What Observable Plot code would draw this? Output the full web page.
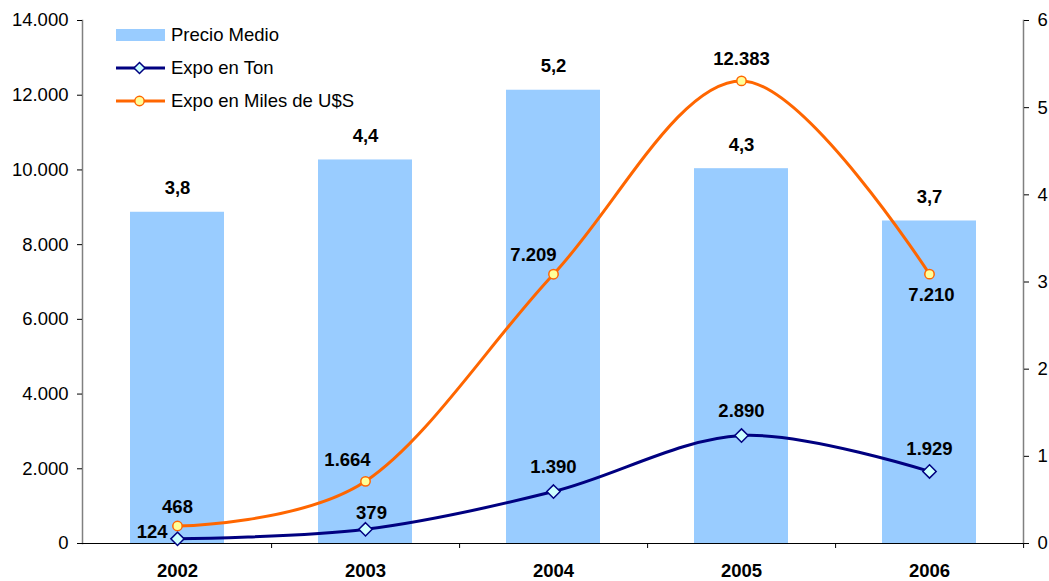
<!DOCTYPE html>
<html>
<head>
<meta charset="utf-8">
<script src="https://cdn.jsdelivr.net/npm/d3@7"></script>
<script src="https://cdn.jsdelivr.net/npm/@observablehq/plot@0.6"></script>
<style>
  body { margin: 0; background: #fff; font-family: "Liberation Sans", Arial, sans-serif; }
  #wrap { position: relative; width: 1049px; height: 581px; }
  #legend { position: absolute; left: 116px; top: 18px; font-size: 18.5px; color: #000; }
  .row { display: flex; align-items: center; height: 33px; }
  .row svg { margin-right: 6px; }
</style>
</head>
<body>
<div id="wrap">
  <div id="chart"></div>
  <div id="legend"></div>
</div>
<script>
const years = ["2002", "2003", "2004", "2005", "2006"];
const precioMedio = [3.8, 4.4, 5.2, 4.3, 3.7];
const expoTon = [124, 379, 1390, 2890, 1929];
const expoMilesUSD = [468, 1664, 7209, 12383, 7210];
const leftTicks = [0, 2000, 4000, 6000, 8000, 10000, 12000, 14000];
const rightTicks = [0, 1, 2, 3, 4, 5, 6];
const seriesNames = ["Precio Medio", "Expo en Ton", "Expo en Miles de U$S"];

const colors = { bar: "#99CCFF", ton: "#000080", usd: "#FF6600", tonFill: "#CCFFFF", usdFill: "#FFFF99" };

const es = d3.formatLocale({ decimal: ",", thousands: ".", grouping: [3], currency: ["$", ""] });
const fmtInt = es.format(",d");
const fmtDec = es.format(".1f");

const W = 1049, H = 581;
const mL = 82, mR = 26, mT = 20, mB = 38;
const leftMax = 14000, rightMax = 6;
const k = leftMax / rightMax;
const step = (W - mL - mR) / years.length;

const rows = years.map((year, i) => ({ year, precio: precioMedio[i], precioScaled: precioMedio[i] * k, ton: expoTon[i], usd: expoMilesUSD[i] }));

// label offsets [dx, dy, anchor]
const tonOff = [[-10, -7, "end"], [6, -16, "middle"], [0, -24, "middle"], [0, -24, "middle"], [0, -22, "middle"]];
const usdOff = [[0, -19, "middle"], [-18, -21, "middle"], [-20, -19, "middle"], [0, -22, "middle"], [2, 21, "middle"]];

const labelStyle = { fontSize: 18.5, fontWeight: "bold", fill: "#000", fontFamily: "Liberation Sans, Arial, sans-serif" };

const marks = [
  Plot.barY(rows, { x: "year", y: "precioScaled", fill: colors.bar }),
  Plot.text(rows, { x: "year", y: "precioScaled", text: d => fmtDec(d.precio), dy: -24, ...labelStyle }),
  Plot.frame({ anchor: "left", stroke: "#808080", strokeWidth: 1.5 }),
  Plot.frame({ anchor: "right", stroke: "#808080", strokeWidth: 1.5 }),
  Plot.ruleY([0], { stroke: "#000", strokeWidth: 1.2 }),
  Plot.axisY(leftTicks, { anchor: "left", tickSize: 5, tickPadding: 9, tickFormat: d => fmtInt(d), fontSize: 18.5, label: null, stroke: "#000" }),
  Plot.axisY(rightTicks.map(v => v * k), { anchor: "right", tickSize: 5, tickPadding: 9, tickFormat: d => String(Math.round(d / k)), fontSize: 18.5, label: null }),
  Plot.axisX({ anchor: "bottom", tickSize: 5, dx: step / 2, tickFormat: () => "", label: null }),
  Plot.axisX({ anchor: "bottom", tickSize: 0, tickPadding: 20, fontSize: 18.5, fontWeight: "bold", label: null }),
  Plot.line(rows, { x: "year", y: "usd", stroke: colors.usd, strokeWidth: 3, curve: "cardinal", tension: 0 }),
  Plot.line(rows, { x: "year", y: "ton", stroke: colors.ton, strokeWidth: 3, curve: "cardinal", tension: 0 }),
  Plot.dot(rows, { x: "year", y: "usd", r: 4.7, fill: colors.usdFill, stroke: colors.usd, strokeWidth: 1.5 }),
  Plot.dot(rows, { x: "year", y: "ton", r: 6, symbol: "diamond2", fill: colors.tonFill, stroke: colors.ton, strokeWidth: 1.5 })
];

rows.forEach((d, i) => {
  marks.push(Plot.text([d], { x: "year", y: "ton", text: r => fmtInt(r.ton), dx: tonOff[i][0], dy: tonOff[i][1], textAnchor: tonOff[i][2], ...labelStyle }));
  marks.push(Plot.text([d], { x: "year", y: "usd", text: r => fmtInt(r.usd), dx: usdOff[i][0], dy: usdOff[i][1], textAnchor: usdOff[i][2], ...labelStyle }));
});

const chart = Plot.plot({
  width: W,
  height: H,
  marginLeft: mL,
  marginRight: mR,
  marginTop: mT,
  marginBottom: mB,
  style: { fontFamily: "Liberation Sans, Arial, sans-serif", fontSize: "18.5px", color: "#000", background: "#fff" },
  x: { domain: years, paddingInner: 0.5, paddingOuter: 0.25, axis: null },
  y: { domain: [0, leftMax], axis: null },
  marks
});
document.getElementById("chart").appendChild(chart);

// Legend
const legend = document.getElementById("legend");
const swatches = [
  `<svg width="49" height="14"><rect x="0" y="1" width="49" height="12" fill="${colors.bar}"/></svg>`,
  `<svg width="49" height="14"><line x1="0" y1="7" x2="49" y2="7" stroke="${colors.ton}" stroke-width="3"/><path d="M23.5,1.5 L29,7 L23.5,12.5 L18,7 Z" fill="${colors.tonFill}" stroke="${colors.ton}" stroke-width="1.5"/></svg>`,
  `<svg width="49" height="14"><line x1="0" y1="7" x2="49" y2="7" stroke="${colors.usd}" stroke-width="3"/><circle cx="23.5" cy="7" r="4.7" fill="${colors.usdFill}" stroke="${colors.usd}" stroke-width="1.5"/></svg>`
];
seriesNames.forEach((name, i) => {
  const row = document.createElement("div");
  row.className = "row";
  row.innerHTML = swatches[i] + `<span>${name}</span>`;
  legend.appendChild(row);
});
</script>
</body>
</html>
